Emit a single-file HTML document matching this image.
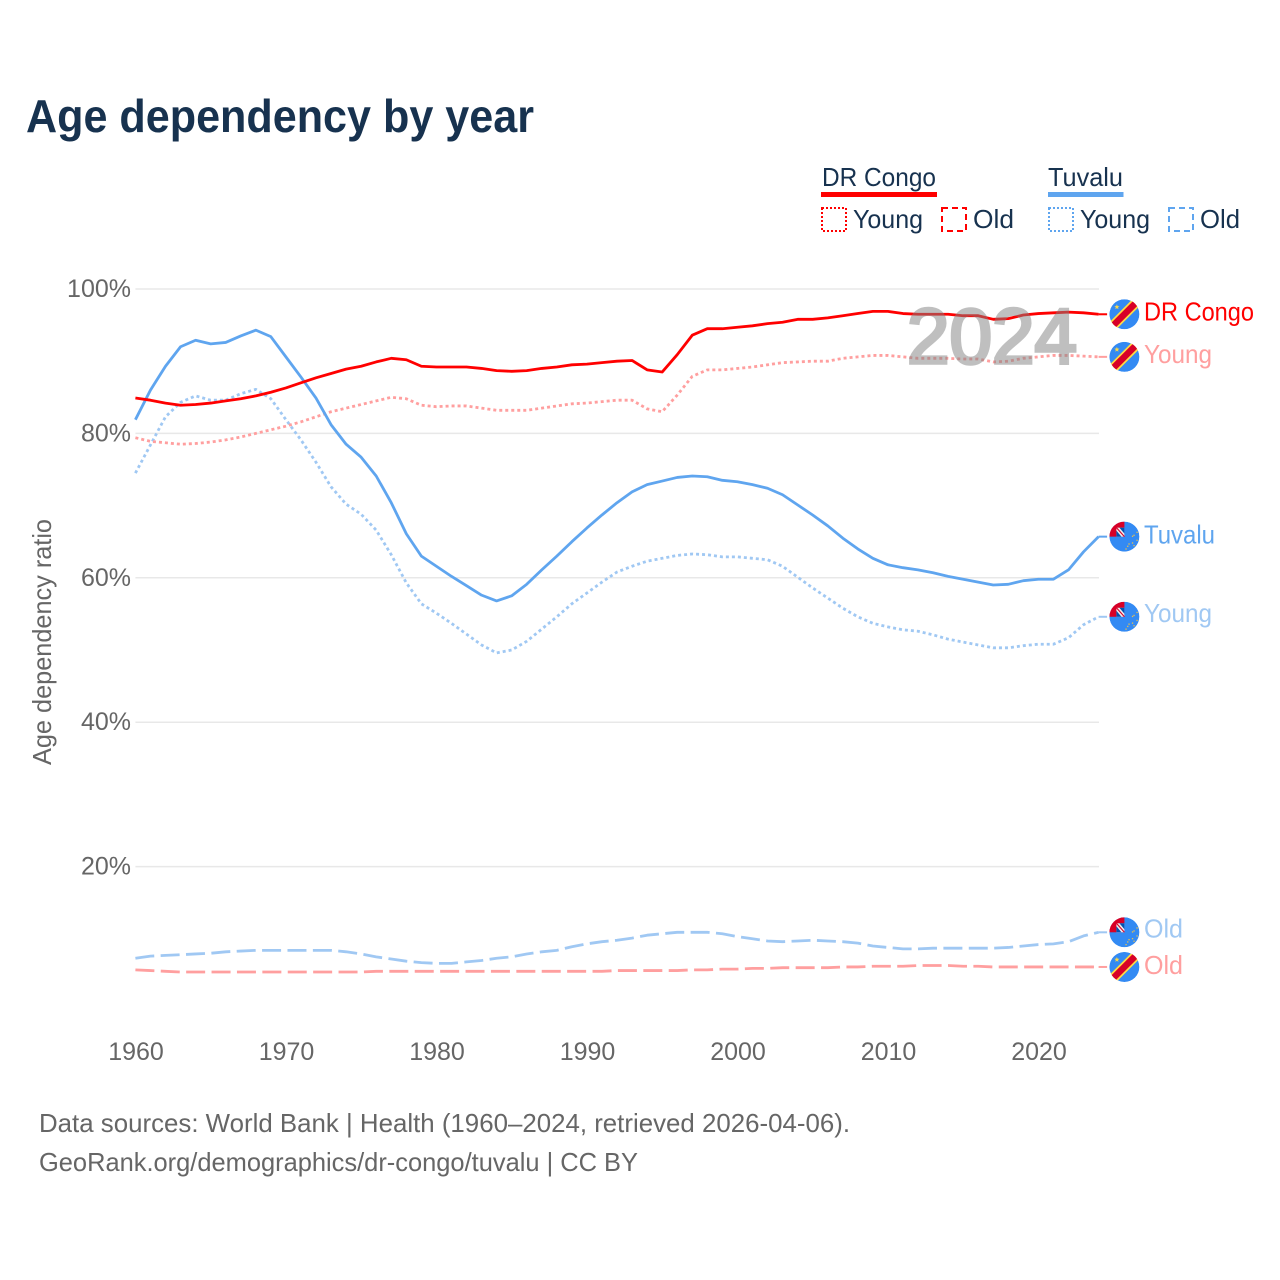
<!DOCTYPE html>
<html lang="en">
<head>
<meta charset="utf-8">
<title>Age dependency by year</title>
<style>
  html, body { margin: 0; padding: 0; background: #fff; }
  svg { display: block; font-family: "Liberation Sans", sans-serif; }
  .legend-text { font-size: 26px; fill: #17324f; }
  .muted { font-size: 26px; fill: #666; }
  .tick { font-size: 25px; fill: #666; }
</style>
</head>
<body>
<svg id="chart" xmlns="http://www.w3.org/2000/svg" width="1280" height="1280" viewBox="0 0 1280 1280">
  <defs>
    <clipPath id="flag-clip"><circle cx="0" cy="0" r="15"/></clipPath>
    <g id="flag-drc" clip-path="url(#flag-clip)">
      <circle r="15" fill="#338af3"/>
      <line x1="-16" y1="16" x2="16" y2="-16" stroke="#ffda44" stroke-width="10"/>
      <line x1="-16" y1="16" x2="16" y2="-16" stroke="#d80027" stroke-width="6.5"/>
      <polygon points="-7.500,-10 -6.800,-8.200 -4.900,-8.200 -6.400,-7 -5.900,-5.100 -7.500,-6.200 -9.100,-5.100 -8.600,-7 -10.100,-8.200 -8.200,-8.200" fill="#ffda44"/>
    </g>
    <g id="flag-tuv" clip-path="url(#flag-clip)">
      <circle r="15" fill="#338af3"/>
      <rect x="-15" y="-15" width="15" height="15" fill="#d80027"/>
      <rect x="-8" y="-9" width="8" height="9" fill="#f0f0f0"/>
      <polygon points="-8,-6 -8,0 -3,0" fill="#0052b4"/>
      <polygon points="-5,-9 0,-9 0,-3" fill="#0052b4"/>
      <line x1="-8" y1="-9" x2="0" y2="0" stroke="#d80027" stroke-width="1.100"/>
      <g fill="#e9c04e">
        <rect x="9" y="-2" width="1.300" height="1.300"/>
        <rect x="12" y="-5" width="1.300" height="1.300"/>
        <rect x="7.500" y="-1" width="1.300" height="1.300"/>
        <rect x="12" y="3" width="1.300" height="1.300"/>
        <rect x="7.500" y="5.700" width="1.300" height="1.300"/>
        <rect x="4" y="6.700" width="1.300" height="1.300"/>
        <rect x="2.700" y="9" width="1.300" height="1.300"/>
        <rect x="1" y="11.700" width="1.300" height="1.300"/>
        <rect x="9" y="8.300" width="1.300" height="1.300"/>
      </g>
    </g>
  </defs>

  <text x="26" y="132" font-size="46" font-weight="700" fill="#17324f" textLength="508" lengthAdjust="spacingAndGlyphs">Age dependency by year</text>

  <g>
    <g>
      <text class="legend-text" x="822" y="186" textLength="114" lengthAdjust="spacingAndGlyphs">DR Congo</text>
      <rect x="821" y="192" width="116" height="5" fill="#ff0000"/>
      <rect x="822" y="208" width="24" height="23" fill="none" stroke="#ff0000" stroke-width="2" stroke-dasharray="2 2"/>
      <text class="legend-text" x="853" y="228" textLength="70" lengthAdjust="spacingAndGlyphs">Young</text>
      <rect x="942" y="208" width="24" height="23" fill="none" stroke="#ff0000" stroke-width="2" stroke-dasharray="6 4"/>
      <text class="legend-text" x="973" y="228" textLength="41" lengthAdjust="spacingAndGlyphs">Old</text>
    </g>
    <g>
      <text class="legend-text" x="1048" y="186" textLength="75" lengthAdjust="spacingAndGlyphs">Tuvalu</text>
      <rect x="1048" y="192" width="75.500" height="5" fill="#5fa5ef"/>
      <rect x="1049" y="208" width="24" height="23" fill="none" stroke="#5fa5ef" stroke-width="2" stroke-dasharray="2 2"/>
      <text class="legend-text" x="1080" y="228" textLength="70" lengthAdjust="spacingAndGlyphs">Young</text>
      <rect x="1169" y="208" width="24" height="23" fill="none" stroke="#5fa5ef" stroke-width="2" stroke-dasharray="6 4"/>
      <text class="legend-text" x="1200" y="228" textLength="40" lengthAdjust="spacingAndGlyphs">Old</text>
    </g>
  </g>

  <g id="grid"></g>
  <g id="y-ticks"></g>
  <g id="x-ticks"></g>
  <text class="muted" transform="translate(51,642) rotate(-90)" text-anchor="middle" textLength="246" lengthAdjust="spacingAndGlyphs">Age dependency ratio</text>
  <g id="series"></g>
  <text x="907" y="363" font-size="78" fill="#808080" stroke="#808080" stroke-width="3.500" opacity="0.5" textLength="170" lengthAdjust="spacingAndGlyphs">2024</text>
  <g id="end-labels"></g>

  <text class="muted" x="39" y="1132" textLength="811" lengthAdjust="spacingAndGlyphs">Data sources: World Bank | Health (1960–2024, retrieved 2026-04-06).</text>
  <text class="muted" x="39" y="1171" textLength="599" lengthAdjust="spacingAndGlyphs">GeoRank.org/demographics/dr-congo/tuvalu | CC BY</text>
</svg>
<script>
const startYear = 1960;
const yTickValues = [20, 40, 60, 80, 100];
const xTickYears = [1960, 1970, 1980, 1990, 2000, 2010, 2020];

const drcTotal = [84.9,84.6,84.2,83.9,84.0,84.2,84.5,84.8,85.2,85.7,86.3,87.0,87.7,88.3,88.9,89.3,89.9,90.4,90.2,89.3,89.2,89.2,89.2,89.0,88.7,88.6,88.7,89.0,89.2,89.5,89.6,89.8,90.0,90.1,88.8,88.5,90.9,93.6,94.5,94.5,94.7,94.9,95.2,95.4,95.8,95.8,96.0,96.3,96.6,96.9,96.9,96.6,96.5,96.5,96.5,96.3,96.3,95.8,95.9,96.4,96.6,96.7,96.8,96.7,96.5];
const drcYoung = [79.4,78.9,78.7,78.5,78.6,78.8,79.1,79.5,80.0,80.5,81.0,81.6,82.3,83.0,83.5,84.0,84.5,85.0,84.8,83.9,83.7,83.8,83.8,83.5,83.2,83.2,83.2,83.5,83.8,84.1,84.2,84.4,84.6,84.6,83.4,83.0,85.3,87.9,88.8,88.8,89.0,89.2,89.5,89.8,89.9,90.0,90.0,90.4,90.6,90.8,90.8,90.6,90.4,90.4,90.4,90.3,90.3,89.9,90.0,90.4,90.6,90.8,90.8,90.7,90.6];
const drcOld = [5.7,5.6,5.5,5.4,5.4,5.4,5.4,5.4,5.4,5.4,5.4,5.4,5.4,5.4,5.4,5.4,5.5,5.5,5.5,5.5,5.5,5.5,5.5,5.5,5.5,5.5,5.5,5.5,5.5,5.5,5.5,5.5,5.6,5.6,5.6,5.6,5.6,5.7,5.7,5.8,5.8,5.9,5.9,6.0,6.0,6.0,6.0,6.1,6.1,6.2,6.2,6.2,6.3,6.3,6.3,6.2,6.2,6.1,6.1,6.1,6.1,6.1,6.1,6.1,6.1];
const tuvTotal = [81.9,86.0,89.3,92.0,92.9,92.4,92.6,93.5,94.3,93.4,90.6,87.8,84.9,81.2,78.5,76.7,74.1,70.4,66.1,63.0,61.6,60.2,58.9,57.6,56.8,57.5,59.1,61.1,63.0,65.0,66.9,68.7,70.4,71.9,72.9,73.4,73.9,74.1,74.0,73.5,73.3,72.9,72.4,71.5,70.1,68.7,67.2,65.5,64.0,62.7,61.8,61.4,61.1,60.7,60.2,59.8,59.4,59.0,59.1,59.6,59.8,59.8,61.1,63.6,65.7];
const tuvYoung = [74.5,78.4,82.3,84.3,85.2,84.6,84.6,85.5,86.1,84.8,81.9,79.1,76.0,72.6,70.2,68.8,66.6,63.2,59.3,56.4,55.1,53.7,52.2,50.7,49.6,50.0,51.2,52.9,54.6,56.4,57.9,59.4,60.8,61.6,62.3,62.7,63.1,63.3,63.2,62.9,62.9,62.7,62.5,61.6,60.1,58.6,57.2,55.8,54.6,53.7,53.2,52.8,52.6,52.1,51.5,51.1,50.7,50.3,50.3,50.6,50.8,50.8,51.7,53.5,54.6];
const tuvOld = [7.3,7.6,7.7,7.8,7.9,8.0,8.2,8.3,8.4,8.4,8.4,8.4,8.4,8.4,8.2,7.9,7.5,7.2,6.9,6.7,6.6,6.6,6.8,7.0,7.3,7.5,7.9,8.2,8.4,8.9,9.3,9.6,9.8,10.1,10.5,10.7,10.9,10.9,10.9,10.7,10.3,10.0,9.7,9.6,9.7,9.8,9.7,9.6,9.4,9.0,8.8,8.6,8.6,8.7,8.7,8.7,8.7,8.7,8.8,9.0,9.2,9.3,9.6,10.4,10.9];

const NS = 'http://www.w3.org/2000/svg';
const plotLeft = 135.4, pxPerYear = 15.05, plotRight = 1099;
const zeroY = 1011, pxPerPercent = 7.22;
const xScale = function (year) { return plotLeft + (year - startYear) * pxPerYear; };
const yScale = function (value) { return zeroY - value * pxPerPercent; };

function make(tag, attrs, parent) {
  const el = document.createElementNS(NS, tag);
  for (const k in attrs) el.setAttribute(k, attrs[k]);
  parent.appendChild(el);
  return el;
}

const gridG = document.getElementById('grid');
const yTicksG = document.getElementById('y-ticks');
const xTicksG = document.getElementById('x-ticks');
const seriesG = document.getElementById('series');
const labelsG = document.getElementById('end-labels');

yTickValues.forEach(function (v) {
  const line = make('line', { x1: plotLeft, x2: plotRight, y1: yScale(v), y2: yScale(v), stroke: '#e8e8e8', 'stroke-width': 1.5 }, gridG);
  
  
  const t = make('text', { x: 131, y: yScale(v) + 8, 'text-anchor': 'end', class: 'tick' }, yTicksG);
  t.textContent = v + '%';
  
  
});

xTickYears.forEach(function (y) {
  const t = make('text', { x: xScale(y) + 0.6, y: 1060, 'text-anchor': 'middle', class: 'tick' }, xTicksG);
  t.textContent = y;
  
  
});

const dotted = '3 3';
const dashed = '19 6.4';

function drawSeries(values, color, dash, seriesName) {
  const d = values.map(function (v, i) {
    return (i ? 'L' : 'M') + xScale(startYear + i).toFixed(2) + ' ' + yScale(v).toFixed(2);
  }).join('');
  const attrs = { d: d, fill: 'none', stroke: color, 'stroke-width': 2.8, 'stroke-linejoin': 'round' };
  if (dash) attrs['stroke-dasharray'] = dash;
  const path = make('path', attrs, seriesG);
  
  
}

function drawEndLabel(values, color, flagId, label, labelWidth, baselineOffset, labelName) {
  const lastY = yScale(values[values.length - 1]);
  const xEnd = xScale(startYear + values.length - 1);
  const conn = make('line', { x1: xEnd, x2: xEnd + 8.5, y1: lastY, y2: lastY, stroke: color, 'stroke-width': 2 }, labelsG);
  
  
  const flag = make('use', { href: '#' + flagId, transform: 'translate(1124.4,' + lastY.toFixed(2) + ')' }, labelsG);
  
  
  const t = make('text', { x: 1144, y: (lastY + baselineOffset).toFixed(2), 'font-size': 26, fill: color, textLength: labelWidth, lengthAdjust: 'spacingAndGlyphs' }, labelsG);
  t.textContent = label;
  
  
}

const red = '#ff0000', lightRed = '#ff9f9f', blue = '#5fa5ef', lightBlue = '#a0c8f3';

drawSeries(drcOld, lightRed, dashed, 'dr-congo-old-line');
drawSeries(tuvOld, lightBlue, dashed, 'tuvalu-old-line');
drawSeries(tuvYoung, lightBlue, dotted, 'tuvalu-young-line');
drawSeries(drcYoung, lightRed, dotted, 'dr-congo-young-line');
drawSeries(tuvTotal, blue, null, 'tuvalu-total-line');
drawSeries(drcTotal, red, null, 'dr-congo-total-line');

drawEndLabel(drcTotal, red, 'flag-drc', 'DR Congo', 110, 6, 'end-label-dr-congo');
drawEndLabel(drcYoung, lightRed, 'flag-drc', 'Young', 68, 6, 'end-label-dr-congo-young');
drawEndLabel(tuvTotal, blue, 'flag-tuv', 'Tuvalu', 71, 7, 'end-label-tuvalu');
drawEndLabel(tuvYoung, lightBlue, 'flag-tuv', 'Young', 68, 5, 'end-label-tuvalu-young');
drawEndLabel(tuvOld, lightBlue, 'flag-tuv', 'Old', 39, 5, 'end-label-tuvalu-old');
drawEndLabel(drcOld, lightRed, 'flag-drc', 'Old', 39, 7, 'end-label-dr-congo-old');
</script>
</body>
</html>
